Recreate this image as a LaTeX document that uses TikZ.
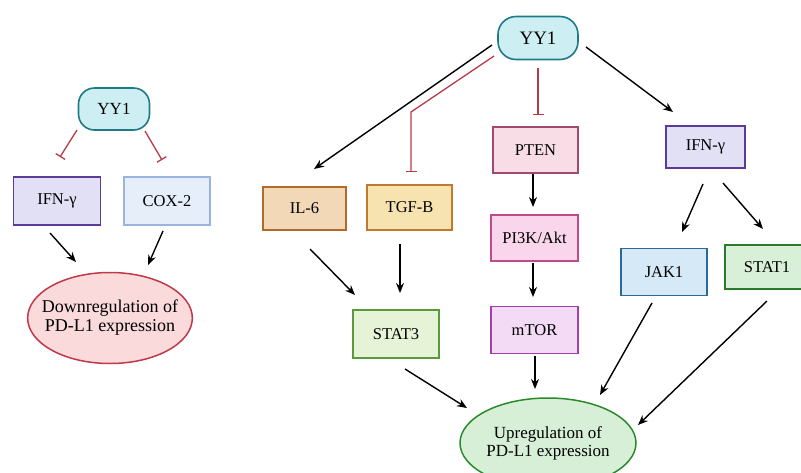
\documentclass[tikz,border=0pt]{standalone}
\usepackage{fontspec}
\setmainfont{Liberation Serif}
\usetikzlibrary{arrows.meta,calc,shapes.geometric}
\definecolor{yyF}{HTML}{CDEEF3}\definecolor{yyD}{HTML}{1E7A85}
\definecolor{ifF}{HTML}{E2E0F5}\definecolor{ifD}{HTML}{5B3A9A}
\definecolor{coF}{HTML}{E6EEFA}\definecolor{coD}{HTML}{9AB5DD}
\definecolor{dnF}{HTML}{FADADB}\definecolor{dnD}{HTML}{C0394A}
\definecolor{ilF}{HTML}{F3D8B8}\definecolor{ilD}{HTML}{B06A2A}
\definecolor{tgF}{HTML}{F6E3B0}\definecolor{tgD}{HTML}{C07A30}
\definecolor{ptF}{HTML}{F9DDE6}\definecolor{ptD}{HTML}{A04A70}
\definecolor{piF}{HTML}{FAD6EC}\definecolor{piD}{HTML}{C04A8A}
\definecolor{mtF}{HTML}{F3DAF5}\definecolor{mtD}{HTML}{A040A8}
\definecolor{s3F}{HTML}{E6F3D6}\definecolor{s3D}{HTML}{5A9A3A}
\definecolor{jkF}{HTML}{D6E9F7}\definecolor{jkD}{HTML}{2A6A9A}
\definecolor{s1F}{HTML}{D8F0D8}\definecolor{s1D}{HTML}{2A7A2A}
\definecolor{upF}{HTML}{D6EFD6}\definecolor{upD}{HTML}{2A8A2A}
\definecolor{inh}{HTML}{B83A48}
\begin{document}
\begin{tikzpicture}[x=1pt,y=-1pt,
  box/.style={draw=#1D,fill=#1F,line width=1.3pt,inner sep=0pt,font=\fontsize{16.5}{18}\selectfont},
  pill/.style={draw=yyD,fill=yyF,line width=1.6pt,rounded corners=16pt,inner sep=0pt},
  oval/.style={ellipse,draw=#1D,fill=#1F,line width=1.5pt,inner sep=0pt,align=center,font=\fontsize{17}{18}\selectfont},
  arr/.style={line width=1.4pt,-{Stealth[length=10pt,width=8pt]}},
  inhib/.style={inh,line width=1.3pt,-{Bar[width=11pt,line width=1.3pt]}}]
\useasboundingbox (0,0) rectangle (801,472);
% left panel
\node[pill,minimum width=71pt,minimum height=42pt,font=\fontsize{17}{18}\selectfont] (yl) at (114,109) {YY1};
\node[box=if,minimum width=87pt,minimum height=48pt] (ifnl) at (57,201) {IFN-γ};
\node[box=co,minimum width=86pt,minimum height=48pt] (cox) at (167,201) {COX-2};
\node[oval=dn,inner xsep=-10pt,minimum width=164pt,minimum height=91pt,font=\fontsize{18}{19}\selectfont] (down) at (110,318) {Downregulation of\\PD-L1 expression};
\draw[inhib] ($(yl)+(-37,21)$) -- ($(ifnl)+(3,-44)$);
\draw[inhib] ($(yl)+(31,22)$) -- ($(cox)+(-5,-41)$);
\draw[arr] ($(ifnl)+(-7,32)$) -- ($(down)+(-34,-56)$);
\draw[arr] ($(cox)+(-4,30)$) -- ($(down)+(38,-53)$);
% right panel
\node[pill,minimum width=80pt,minimum height=43pt,rounded corners=18pt,font=\fontsize{19}{20}\selectfont] (yr) at (538,38) {YY1};
\node[box=il,minimum width=83pt,minimum height=43pt] (il6) at (304.5,208.5) {IL-6};
\node[box=tg,minimum width=85pt,minimum height=45pt] (tgf) at (409.5,207.5) {TGF-B};
\node[box=pt,minimum width=85pt,minimum height=46pt] (pten) at (535.5,150) {PTEN};
\node[box=pi,minimum width=87pt,minimum height=46pt] (pi3k) at (534.5,238) {PI3K/Akt};
\node[box=mt,minimum width=87pt,minimum height=47pt] (mtor) at (534.5,330) {mTOR};
\node[box=s3,minimum width=86pt,minimum height=48pt] (stat3) at (396,334) {STAT3};
\node[box=if,minimum width=79pt,minimum height=42pt] (ifnr) at (705.5,147) {IFN-γ};
\node[box=jk,minimum width=86pt,minimum height=47pt] (jak1) at (664,272) {JAK1};
\node[box=s1,minimum width=84pt,minimum height=44pt] (stat1) at (767,267) {STAT1};
\node[oval=up,minimum width=176pt,minimum height=90pt] (up) at (548,443) {Upregulation of\\PD-L1 expression};
\draw[arr] ($(yr)+(-46,7)$) -- ($(il6)+(9.5,-39.5)$);
\draw[inhib] ($(yr)+(-44,18)$) -- ($(tgf)+(1.5,-95.5)$) -- ($(tgf)+(1.5,-35.5)$);
\draw[inhib] ($(yr)+(0,30)$) -- ($(pten)+(2.5,-35)$);
\draw[arr] ($(yr)+(48,9)$) -- ($(ifnr)+(-32.5,-35)$);
\draw[arr] ($(pten)+(-2.5,24)$) -- ($(pi3k)+(-1.5,-31)$);
\draw[arr] ($(pi3k)+(-1.5,25)$) -- ($(mtor)+(-1.5,-33)$);
\draw[arr] ($(mtor)+(0.5,26)$) -- ($(up)+(-13,-54)$);
\draw[arr] ($(il6)+(5.5,40.5)$) -- ($(stat3)+(-41,-39)$);
\draw[arr] ($(tgf)+(-9.5,36.5)$) -- ($(stat3)+(4,-41)$);
\draw[arr] ($(stat3)+(9,35)$) -- ($(up)+(-81,-35)$);
\draw[arr] ($(ifnr)+(-2.5,37)$) -- ($(jak1)+(18,-40)$);
\draw[arr] ($(ifnr)+(17.5,36)$) -- ($(stat1)+(-4,-38)$);
\draw[arr] ($(jak1)+(-12,31)$) -- ($(up)+(52,-48)$);
\draw[arr] ($(stat1)+(0,34)$) -- ($(up)+(90,-18)$);
\end{tikzpicture}
\end{document}
